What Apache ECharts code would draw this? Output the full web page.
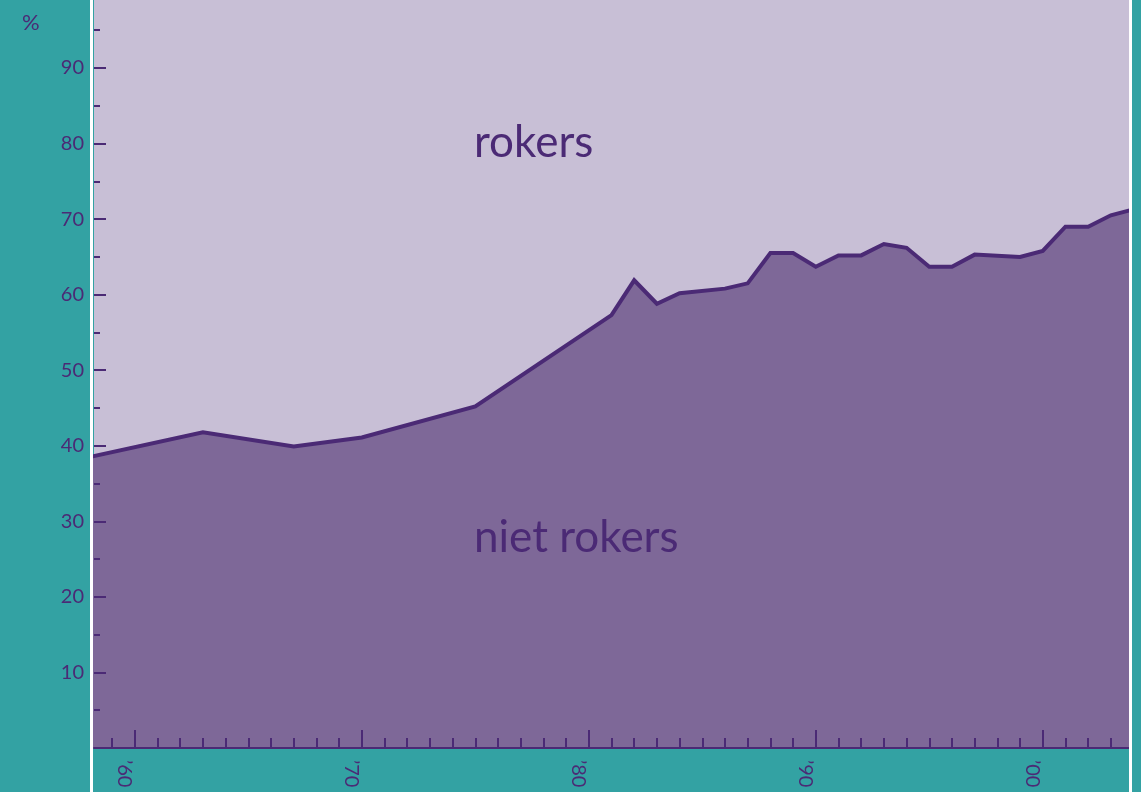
<!DOCTYPE html>
<html>
<head>
<meta charset="utf-8">
<script src="https://cdn.jsdelivr.net/npm/echarts@6/dist/echarts.min.js"></script>
<style>
html,body{margin:0;padding:0;background:#33a2a3;}
#c{width:1141px;height:792px;}
</style>
</head>
<body>
<div id="c"></div>
<script>
// Data: share of non-smokers (%) per year
const years = [1958, 1963, 1967, 1970, 1975, 1981, 1982, 1983, 1984, 1986, 1987, 1988, 1989, 1990, 1991, 1992, 1993, 1994, 1995, 1996, 1997, 1999, 2000, 2001, 2002, 2003, 2004];
const nietRokers = [38.5, 41.8, 39.9, 41.1, 45.2, 57.3, 61.9, 58.8, 60.2, 60.8, 61.5, 65.5, 65.5, 63.7, 65.2, 65.2, 66.7, 66.2, 63.7, 63.7, 65.3, 65.0, 65.8, 69.0, 69.0, 70.5, 71.3];
const decadeTicks = [1960, 1970, 1980, 1990, 2000];
const decadeLabels = ['’60', '’70', '’80', '’90', '’00'];
const yearTicks = [1959,1960,1961,1962,1963,1964,1965,1966,1967,1968,1969,1970,1971,1972,1973,1974,1975,1976,1977,1978,1979,1980,1981,1982,1983,1984,1985,1986,1987,1988,1989,1990,1991,1992,1993,1994,1995,1996,1997,1998,1999,2000,2001,2002,2003];
const yMajorTicks = [10, 20, 30, 40, 50, 60, 70, 80, 90];
const yMinorTicks = [5, 15, 25, 35, 45, 55, 65, 75, 85, 95];
const xMin = 1958.2, xMax = 2003.8;
const yMin = 0, yMax = 99;

const dark = '#4b2a75';
const chart = echarts.init(document.getElementById('c'), null, {renderer: 'canvas'});
const font = 'Lato, "Open Sans", sans-serif';

const option = {
  backgroundColor: '#33a2a3',
  animation: false,
  grid: {left: 94, right: 12, top: 0, bottom: 44, show: true, backgroundColor: '#c8bfd6', borderWidth: 0},
  xAxis: [
    {
      type: 'value', min: xMin, max: xMax, splitLine: {show: false}, z: 10,
      axisLine: {show: true, lineStyle: {color: dark, width: 2}},
      axisTick: {show: true, inside: true, length: 18, lineStyle: {color: dark, width: 2}, customValues: decadeTicks},
      axisLabel: {
        show: true, rotate: -90, margin: 12, color: dark, fontSize: 20, fontFamily: font,
        verticalAlign: 'top',
        customValues: decadeTicks,
        formatter: v => { const i = decadeTicks.indexOf(Math.round(v)); return i >= 0 ? decadeLabels[i] : ''; }
      }
    },
    {
      type: 'value', min: xMin, max: xMax, position: 'bottom', splitLine: {show: false}, z: 10,
      axisLine: {show: false},
      axisTick: {show: true, inside: true, length: 10, lineStyle: {color: dark, width: 2}, customValues: yearTicks},
      axisLabel: {show: false}
    }
  ],
  yAxis: [
    {
      type: 'value', min: yMin, max: yMax, position: 'left', splitLine: {show: false}, z: 10,
      axisLine: {show: false},
      axisTick: {show: true, inside: true, length: 12, lineStyle: {color: dark, width: 2}, customValues: yMajorTicks},
      axisLabel: {
        show: true, margin: 10, color: dark, fontSize: 20, fontFamily: font,
        customValues: yMajorTicks
      }
    },
    {
      type: 'value', min: yMin, max: yMax, position: 'left', offset: 0, splitLine: {show: false}, z: 10,
      axisLine: {show: false},
      axisTick: {show: true, inside: true, length: 6, lineStyle: {color: dark, width: 2}, customValues: yMinorTicks},
      axisLabel: {show: false}
    }
  ],
  series: [
    {
      type: 'line', xAxisIndex: 0, yAxisIndex: 0,
      data: years.map((y, i) => [y, nietRokers[i]]),
      showSymbol: false, symbol: 'none', clip: true,
      lineStyle: {color: dark, width: 4, join: 'miter'},
      areaStyle: {color: '#7e6898', opacity: 1},
      z: 2
    }
  ]
};
chart.setOption(option);

const leftPx = chart.convertToPixel({xAxisIndex: 0}, xMin);
const rightPx = chart.convertToPixel({xAxisIndex: 0}, xMax);
chart.setOption({
  graphic: [
    {type: 'rect', shape: {x: leftPx - 4, y: 0, width: 3, height: 792}, style: {fill: '#ffffff'}, z: 100},
    {type: 'rect', shape: {x: rightPx, y: 0, width: 3, height: 792}, style: {fill: '#ffffff'}, z: 100},
    {type: 'text', left: 22, top: 12, style: {text: '%', fill: dark, font: '22px ' + font}, z: 100},
    {type: 'text', left: 474, top: 121, style: {text: 'rokers', fill: dark, font: '44px ' + font}, z: 100},
    {type: 'text', left: 474, top: 516, style: {text: 'niet rokers', fill: dark, font: '44px ' + font}, z: 100}
  ]
});
</script>
</body>
</html>
